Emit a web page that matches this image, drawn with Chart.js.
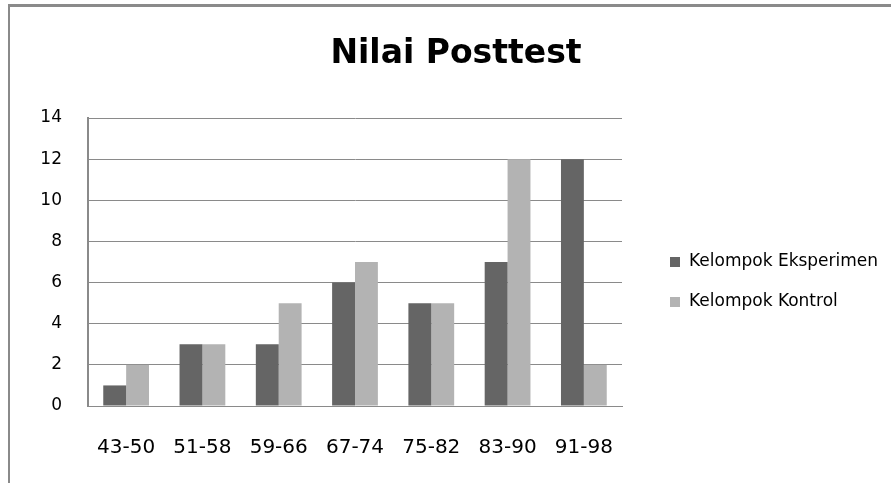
<!DOCTYPE html>
<html>
<head>
<meta charset="utf-8">
<script src="https://cdn.jsdelivr.net/npm/chart.js@4"></script>
<style>
  html, body { margin: 0; padding: 0; background: #fff; }
  #wrap { position: relative; width: 891px; height: 483px; }
  #frame { position: absolute; left: 8px; top: 4px; right: 0; bottom: 0;
           border-left: 2px solid #8a8a8a; border-top: 3px solid #8a8a8a; pointer-events: none; }
</style>
</head>
<body>
<div id="wrap">
  <canvas id="chart" width="891" height="483"></canvas>
  <div id="frame"></div>
</div>
<script>
const categories = ['43-50', '51-58', '59-66', '67-74', '75-82', '83-90', '91-98'];
const eksperimen = [1, 3, 3, 6, 5, 7, 12];
const kontrol = [2, 3, 5, 7, 5, 12, 2];
const seriesNames = ['Kelompok Eksperimen', 'Kelompok Kontrol'];
const chartTitle = 'Nilai Posttest';

// title (centred on whole frame) + legend on the right side
const sideLegend = {
  id: 'sideLegend',
  afterDraw(chart) {
    const ctx = chart.ctx;
    ctx.save();
    ctx.fillStyle = '#000';
    ctx.font = 'bold 33px "DejaVu Sans"';
    ctx.textAlign = 'center';
    ctx.textBaseline = 'middle';
    ctx.fillText(chartTitle, 456, 54);

    ctx.textAlign = 'left';
    ctx.font = '17px "DejaVu Sans"';
    chart.data.datasets.forEach((ds, i) => {
      const y = 262 + i * 40;
      ctx.fillStyle = ds.backgroundColor;
      ctx.fillRect(670, y - 5, 10, 10);
      ctx.fillStyle = '#000';
      ctx.fillText(ds.label, 689, y);
    });
    ctx.restore();
  }
};

new Chart(document.getElementById('chart'), {
  type: 'bar',
  data: {
    labels: categories,
    datasets: [
      { label: seriesNames[0], data: eksperimen, backgroundColor: '#656565' },
      { label: seriesNames[1], data: kontrol, backgroundColor: '#b3b3b3' }
    ]
  },
  options: {
    responsive: false,
    animation: false,
    layout: { padding: { left: 0, right: 269, top: 118, bottom: 0 } },
    datasets: { bar: { categoryPercentage: 0.6, barPercentage: 1.0 } },
    plugins: {
      legend: { display: false },
      tooltip: { enabled: false },
      title: { display: false }
    },
    scales: {
      x: {
        grid: { display: false, drawTicks: false },
        border: { display: true, color: '#8a8a8a', width: 1 },
        ticks: { color: '#000', font: { family: 'DejaVu Sans', size: 20 }, padding: 30, maxRotation: 0 },
        afterFit(scale) { scale.height = 77; }
      },
      y: {
        min: 0,
        max: 14,
        ticks: { stepSize: 2, color: '#000', font: { family: 'DejaVu Sans', size: 17 }, padding: 26 },
        grid: { color: '#8a8a8a', drawTicks: false },
        border: { display: true, color: '#8a8a8a', width: 2 },
        afterFit(scale) { scale.width = 88; }
      }
    }
  },
  plugins: [sideLegend]
});
</script>
</body>
</html>
